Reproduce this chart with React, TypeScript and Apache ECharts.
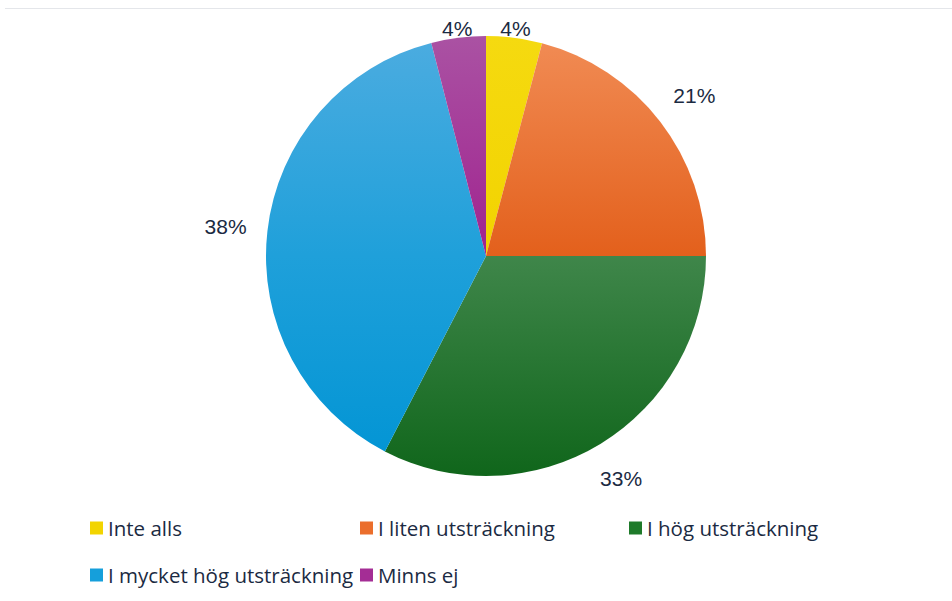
import React, { useEffect, useRef } from "react";
import * as echarts from "echarts";

const categories = [
  "Inte alls",
  "I liten utsträckning",
  "I hög utsträckning",
  "I mycket hög utsträckning",
  "Minns ej",
];
const values = [4.1, 20.9, 32.6, 38.4, 4.0];
const solidColors = ["#F2D400", "#EB6E2C", "#1E7A2A", "#159FDB", "#A42D95"];
const gradientStops: [string, string, string][] = [
  ["#F5DA10", "#F2D300", "#EFCF00"],
  ["#F18C55", "#E3601C", "#D44C08"],
  ["#5E9C66", "#3F864A", "#10661B"],
  ["#4CACE0", "#1FA0DA", "#0094D4"],
  ["#AA52A3", "#A0238F", "#9A1A88"],
];
const legendPos = [
  { left: 90, top: 516 },
  { left: 360, top: 516 },
  { left: 629, top: 516 },
  { left: 90, top: 563 },
  { left: 360, top: 563 },
];

const CX = 486;
const CY = 256;
const R = 220;
const GAP = 20;
const TOP_LIMIT = 18;

export default function App() {
  const ref = useRef<HTMLDivElement>(null);
  useEffect(() => {
    if (!ref.current) return;
    const chart = echarts.init(ref.current, undefined, { renderer: "svg" });
    const total = values.reduce((a, b) => a + b, 0);
    const mids: number[] = [];
    let acc = 0;
    values.forEach((v) => {
      mids.push(((acc + v / 2) / total) * Math.PI * 2);
      acc += v;
    });
    const option: any = {
      animation: false,
      backgroundColor: "#ffffff",
      graphic: [
        {
          type: "line",
          shape: { x1: 5, y1: 8.5, x2: 952, y2: 8.5 },
          style: { stroke: "#E4E6EA", lineWidth: 1 },
        },
      ],
      legend: categories.map((name, i) => ({
        left: legendPos[i].left,
        top: legendPos[i].top,
        padding: 0,
        icon: "rect",
        itemWidth: 13,
        itemHeight: 13,
        selectedMode: false,
        data: [{ name, itemStyle: { color: solidColors[i] } }],
        textStyle: {
          fontFamily: "Open Sans",
          fontSize: 20.5,
          lineHeight: 24,
          color: "#1B2A42",
        },
      })),
      series: [
        {
          type: "pie",
          center: [CX, CY],
          radius: R,
          startAngle: 90,
          clockwise: true,
          percentPrecision: 0,
          data: categories.map((name, i) => ({
            name,
            value: values[i],
            itemStyle: {
              color: {
                type: "linear",
                global: true,
                x: 0,
                y: CY - R,
                x2: 0,
                y2: CY + R,
                colorStops: [
                  { offset: 0, color: gradientStops[i][0] },
                  { offset: 0.5, color: gradientStops[i][1] },
                  { offset: 1, color: gradientStops[i][2] },
                ],
              },
            },
          })),
          itemStyle: { borderWidth: 0 },
          label: {
            show: true,
            position: "outside",
            formatter: "{d}%",
            fontFamily: "Liberation Sans",
            fontSize: 21,
            color: "#1B2A42",
          },
          labelLine: { show: false },
          labelLayout: (params: any) => {
            const a = mids[params.dataIndex];
            const hw = params.labelRect.width / 2;
            const hh = params.labelRect.height / 2;
            const s = Math.sin(a);
            const c = Math.cos(a);
            let d = R + GAP + hw * Math.abs(s) + hh * Math.abs(c);
            let y = CY - d * c;
            if (y - hh < TOP_LIMIT && c > 0) {
              d = (CY - TOP_LIMIT - hh) / c;
              y = CY - d * c;
            }
            const x = CX + d * s;
            return { x, y, align: "center", verticalAlign: "middle" };
          },
          emphasis: { disabled: true },
        },
      ],
    };
    chart.setOption(option);
    return () => chart.dispose();
  }, []);
  return (
    <div
      ref={ref}
      style={{ position: "absolute", left: 0, top: 0, width: 952, height: 601 }}
    />
  );
}
